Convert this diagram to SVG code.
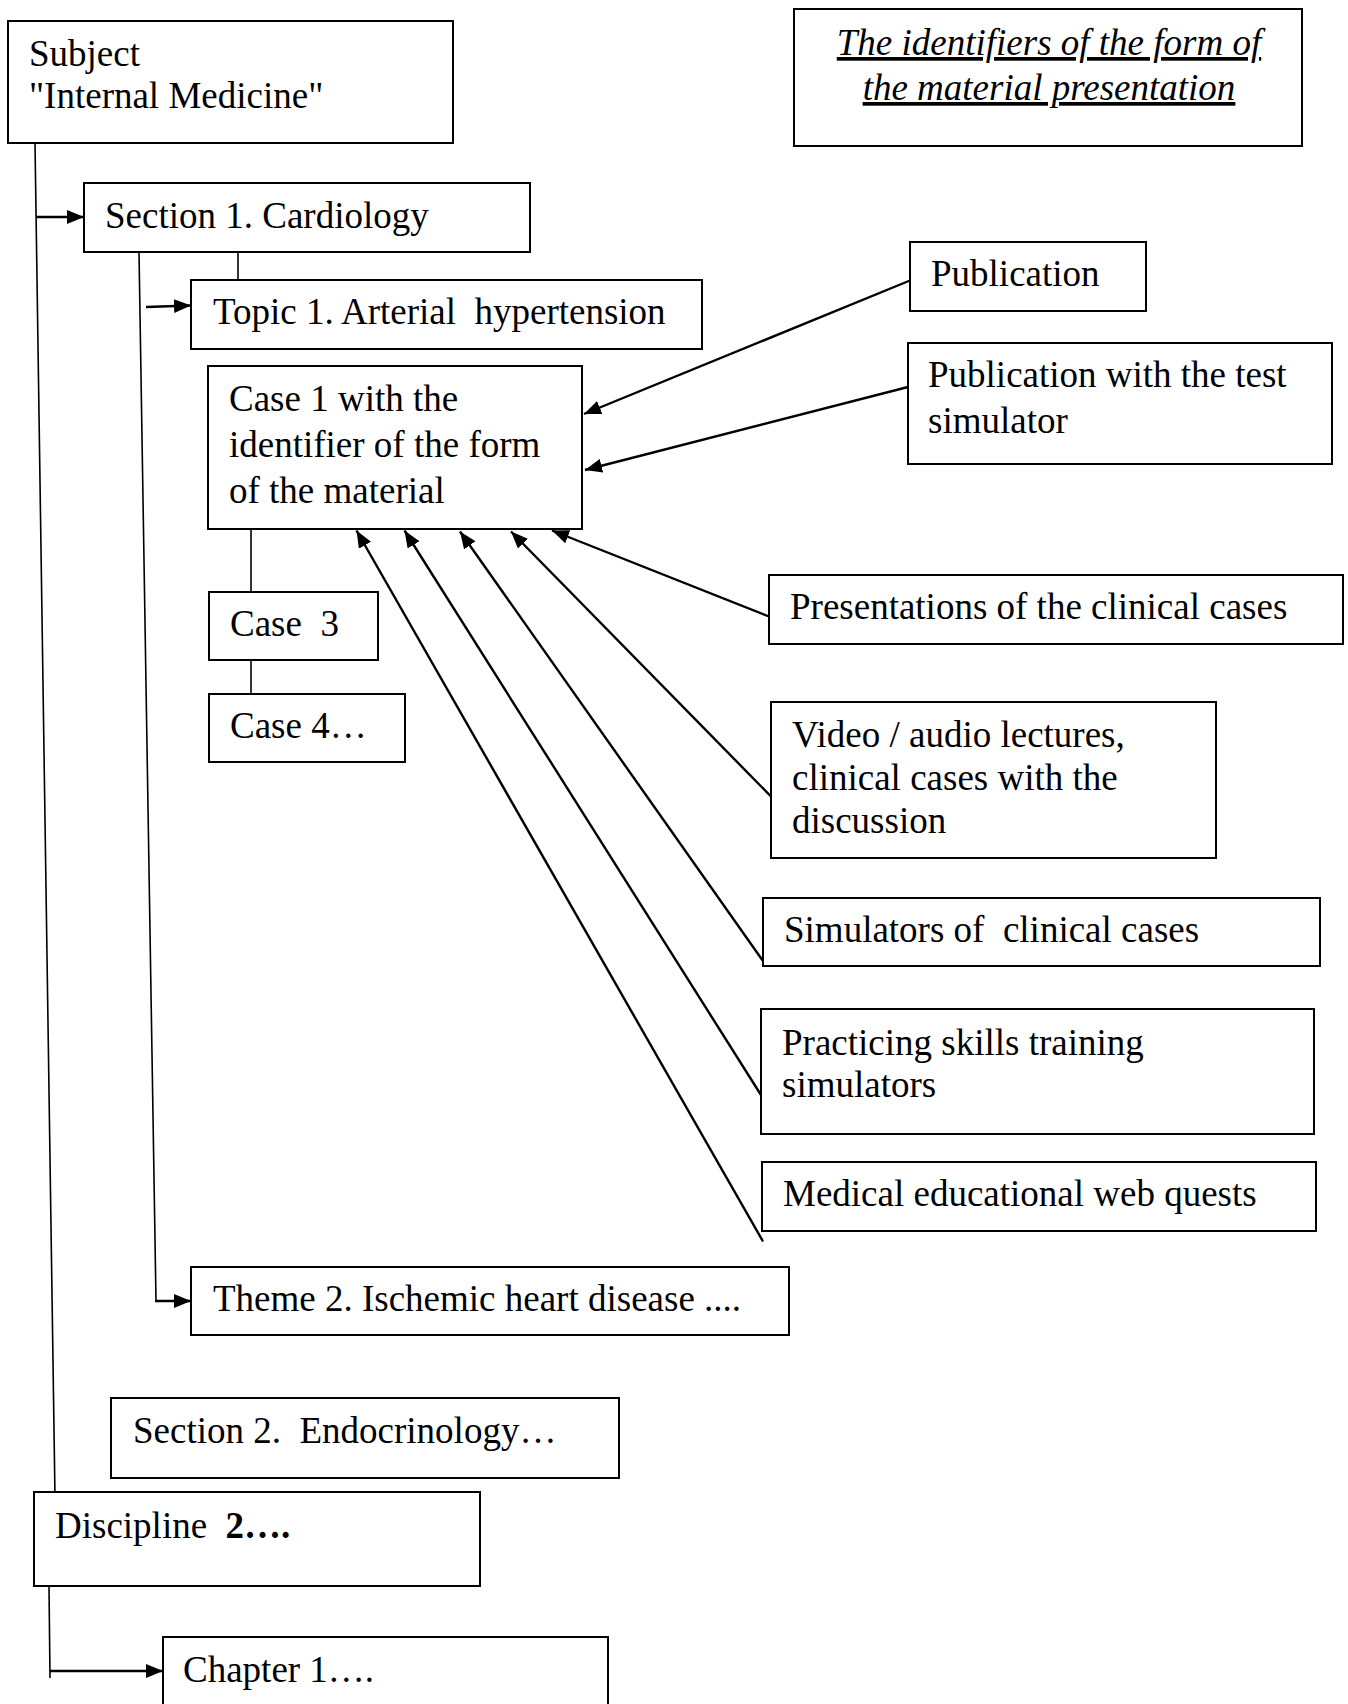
<svg xmlns="http://www.w3.org/2000/svg" width="1348" height="1704" viewBox="0 0 1348 1704">
<style>
.box{fill:#fff;stroke:#000;stroke-width:2}
.t{font-family:"Liberation Serif","Times New Roman",serif;font-size:37px;fill:#000;white-space:pre}
.it{font-style:italic;text-decoration:underline}
.ln{fill:none;stroke:#000;stroke-width:1.6}
.ar{fill:none;stroke:#000;stroke-width:2.4}
</style>
<defs>
<marker id="ah" markerUnits="userSpaceOnUse" markerWidth="19" markerHeight="16" refX="17" refY="7" orient="auto">
<path d="M0,0 L17,7 L0,14 z" fill="#000"/>
</marker>
</defs>
<rect width="1348" height="1704" fill="#fff"/>

<g id="connectors">
<line class="ln" x1="35" y1="143" x2="55" y2="1497"/>
<line class="ar" x1="36" y1="217" x2="84" y2="217" marker-end="url(#ah)"/>
<polyline class="ln" points="139,252 156,1301 176,1301"/>
<line class="ar" x1="155" y1="1301" x2="191" y2="1301" marker-end="url(#ah)"/>
<line class="ln" x1="238" y1="248" x2="238" y2="280"/>
<line class="ar" x1="146" y1="307" x2="191" y2="305.5" marker-end="url(#ah)"/>
<line class="ln" x1="251" y1="529" x2="251" y2="597"/>
<line class="ln" x1="251" y1="655" x2="251" y2="694"/>
<line class="ln" x1="49" y1="1586" x2="50" y2="1678"/>
<line class="ar" x1="50" y1="1671" x2="163" y2="1671" marker-end="url(#ah)"/>
<line class="ar" x1="910" y1="280.5" x2="584" y2="414" marker-end="url(#ah)"/>
<line class="ar" x1="908" y1="387" x2="585" y2="470" marker-end="url(#ah)"/>
<line class="ar" x1="769" y1="616.5" x2="552" y2="530.5" marker-end="url(#ah)"/>
<line class="ar" x1="771" y1="796.5" x2="511" y2="531.5" marker-end="url(#ah)"/>
<line class="ar" x1="763" y1="961" x2="460" y2="531.5" marker-end="url(#ah)"/>
<line class="ar" x1="761" y1="1095" x2="404.5" y2="530.5" marker-end="url(#ah)"/>
<line class="ar" x1="763" y1="1241.5" x2="356.5" y2="530.5" marker-end="url(#ah)"/>
</g>

<g id="subject"><rect class="box" x="8" y="21" width="445" height="122"/>
<text class="t" x="29" y="66">Subject</text><text class="t" x="29" y="108">"Internal Medicine"</text></g>

<g id="identifiers"><rect class="box" x="794" y="9" width="508" height="137"/>
<text class="t it" x="1049" y="55" text-anchor="middle">The identifiers of the form of</text>
<text class="t it" x="1049" y="100" text-anchor="middle">the material presentation</text></g>

<g id="section1"><rect class="box" x="84" y="183" width="446" height="69"/>
<text class="t" x="105" y="228">Section 1. Cardiology</text></g>

<g id="topic1"><rect class="box" x="191" y="280" width="511" height="69"/>
<text class="t" x="213" y="324">Topic 1. Arterial  hypertension</text></g>

<g id="case1"><rect class="box" x="208" y="366" width="374" height="163"/>
<text class="t" x="229" y="411">Case 1 with the</text>
<text class="t" x="229" y="457">identifier of the form</text>
<text class="t" x="229" y="503">of the material</text></g>

<g id="case3"><rect class="box" x="209" y="592" width="169" height="68"/>
<text class="t" x="230" y="636">Case  3</text></g>

<g id="case4"><rect class="box" x="209" y="694" width="196" height="68"/>
<text class="t" x="230" y="738">Case 4…</text></g>

<g id="publication"><rect class="box" x="910" y="242" width="236" height="69"/>
<text class="t" x="931" y="286">Publication</text></g>

<g id="publication-test"><rect class="box" x="908" y="343" width="424" height="121"/>
<text class="t" x="928" y="387">Publication with the test</text>
<text class="t" x="928" y="433">simulator</text></g>

<g id="presentations"><rect class="box" x="769" y="575" width="574" height="69"/>
<text class="t" x="790" y="619">Presentations of the clinical cases</text></g>

<g id="video"><rect class="box" x="771" y="702" width="445" height="156"/>
<text class="t" x="792" y="747">Video / audio lectures,</text>
<text class="t" x="792" y="790">clinical cases with the</text>
<text class="t" x="792" y="833">discussion</text></g>

<g id="simulators"><rect class="box" x="763" y="898" width="557" height="68"/>
<text class="t" x="784" y="942">Simulators of  clinical cases</text></g>

<g id="practicing"><rect class="box" x="761" y="1009" width="553" height="125"/>
<text class="t" x="782" y="1055">Practicing skills training</text>
<text class="t" x="782" y="1097">simulators</text></g>

<g id="webquests"><rect class="box" x="762" y="1162" width="554" height="69"/>
<text class="t" x="783" y="1206">Medical educational web quests</text></g>

<g id="theme2"><rect class="box" x="191" y="1267" width="598" height="68"/>
<text class="t" x="213" y="1311">Theme 2. Ischemic heart disease ....</text></g>

<g id="section2"><rect class="box" x="111" y="1398" width="508" height="80"/>
<text class="t" x="133" y="1443">Section 2.  Endocrinology…</text></g>

<g id="discipline2"><rect class="box" x="34" y="1492" width="446" height="94"/>
<text class="t" x="55" y="1538">Discipline  <tspan font-weight="bold">2….</tspan></text></g>

<g id="chapter1"><rect class="box" x="163" y="1637" width="445" height="80"/>
<text class="t" x="183" y="1682">Chapter 1….</text></g>
</svg>
